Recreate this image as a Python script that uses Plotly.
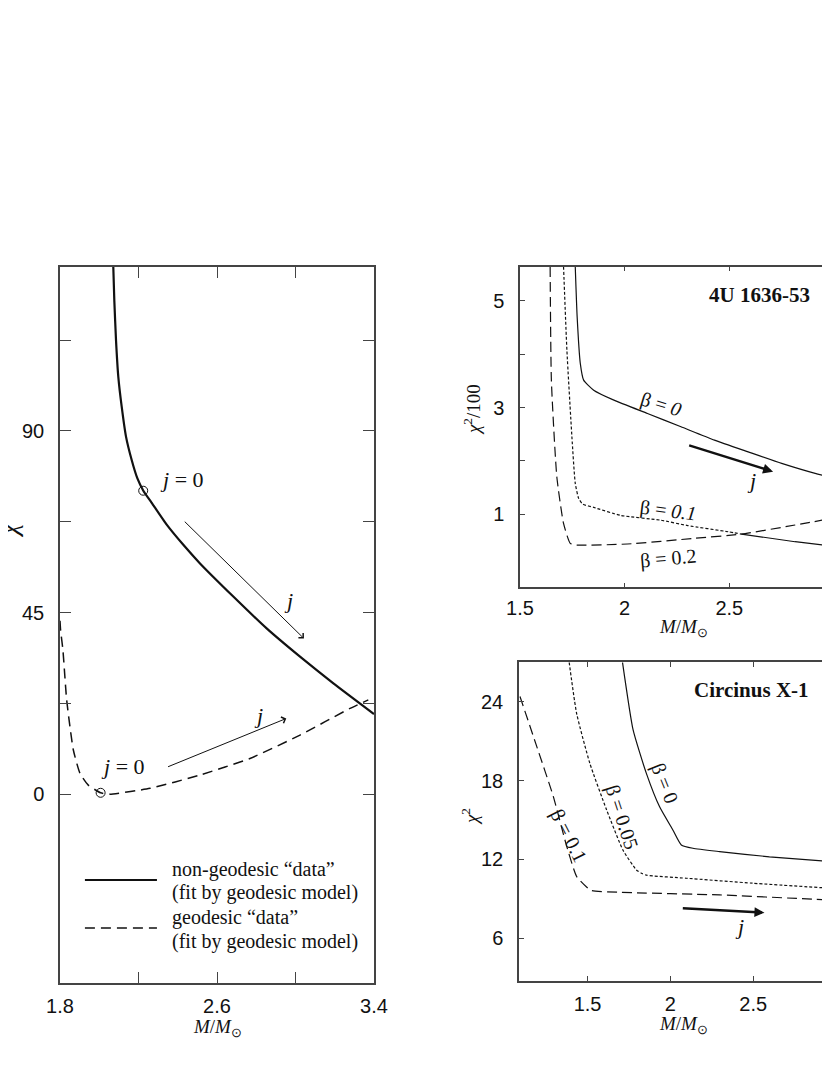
import plotly.graph_objects as go

# ---- left panel: chi^2 vs M ----
left_m_nongeo = [2.0716, 2.0767, 2.0854, 2.0971, 2.1144, 2.1363, 2.1653, 2.1939, 2.2245, 2.2673,
                 2.3437, 2.4283, 2.5134, 2.683, 2.853, 3.023, 3.193, 3.400]
left_chi_nongeo = [130.6, 122.4, 112.5, 103.4, 96.0, 88.6, 82.8, 78.3, 75.2, 72.2,
                   66.8, 61.8, 57.2, 49.0, 41.1, 34.1, 27.5, 19.9]

left_m_geo = [1.800, 1.803, 1.815, 1.834, 1.868, 1.902, 1.944, 2.007, 2.054, 2.259, 2.513, 2.768, 3.023, 3.278, 3.371]
left_chi_geo = [43.0, 40.7, 35.7, 23.4, 11.0, 5.2, 2.3, 0.4, 0.07, 1.5, 4.8, 8.9, 14.7, 21.3, 23.4]

# j = 0 points
j0_m = [2.224, 2.007]
j0_chi = [75.2, 0.4]

# ---- top right: 4U 1636-53, chi^2/100 ----
u_m_b0 = [1.764, 1.773, 1.788, 1.804, 1.852, 1.9486, 2.109, 2.269, 2.429, 2.590, 2.750, 2.910, 3.000]
u_chi_b0 = [5.64, 4.70, 3.83, 3.515, 3.327, 3.14, 2.89, 2.64, 2.39, 2.17, 1.955, 1.768, 1.685]

u_m_b01 = [1.708, 1.724, 1.748, 1.764, 1.780, 1.800, 1.852, 1.981, 2.173, 2.301, 2.494, 2.558]
u_chi_b01 = [5.64, 4.08, 2.45, 1.58, 1.30, 1.19, 1.13, 0.98, 0.89, 0.79, 0.674, 0.63]
u_m_b01_tail = [2.558, 2.814, 3.000]
u_chi_b01_tail = [0.63, 0.487, 0.40]

u_m_b02 = [1.644, 1.650, 1.676, 1.708, 1.740, 1.772, 2.013, 2.333, 2.558, 2.814, 3.000]
u_chi_b02 = [5.64, 3.50, 1.70, 0.83, 0.457, 0.425, 0.444, 0.55, 0.63, 0.80, 0.93]

# ---- bottom right: Circinus X-1, chi^2 ----
c_m_b0 = [1.711, 1.775, 1.855, 1.935, 2.015, 2.066, 2.136, 2.297, 2.598, 3.000]
c_chi_b0 = [27.0, 21.85, 18.55, 16.0, 14.24, 13.1, 12.85, 12.6, 12.2, 11.8]

c_m_b005 = [1.389, 1.434, 1.514, 1.614, 1.714, 1.795, 1.825, 1.855, 2.096, 2.497, 3.000]
c_chi_b005 = [27.0, 23.1, 19.3, 15.8, 12.7, 11.2, 10.95, 10.8, 10.57, 10.19, 9.78]

c_m_b01 = [1.092, 1.193, 1.293, 1.374, 1.434, 1.494, 1.524, 1.694, 2.297, 2.869, 3.000]
c_chi_b01 = [24.4, 20.6, 16.8, 13.0, 10.7, 9.9, 9.63, 9.5, 9.3, 8.97, 8.9]

W, H = 830, 1040
OFF = 8  # page body margin
SANS = "Liberation Sans"
SERIF = "Liberation Serif"
INK = "#111111"


def px(x):
    return (x - OFF) / W


def py(y):
    return 1 - (y - OFF) / H


fig = go.Figure()

def curve(x, y, ax, width=1.2, dash="solid"):
    fig.add_trace(go.Scatter(x=x, y=y, mode="lines",
                             line=dict(color=INK, width=width, dash=dash, shape="spline", smoothing=0.5),
                             xaxis=ax[0], yaxis=ax[1]))

# left panel
curve(left_m_nongeo, left_chi_nongeo, ("x", "y"), width=2.2)
curve(left_m_geo, left_chi_geo, ("x", "y"), width=1.5, dash="10px,6px")
fig.add_trace(go.Scatter(x=j0_m, y=j0_chi, mode="markers",
                         marker=dict(symbol="circle-open", size=9, color=INK, line=dict(width=1)),
                         xaxis="x", yaxis="y"))

# top right
curve(u_m_b0, u_chi_b0, ("x2", "y2"))
curve(u_m_b01, u_chi_b01, ("x2", "y2"), dash="3px,2px")
curve(u_m_b01_tail, u_chi_b01_tail, ("x2", "y2"))
curve(u_m_b02, u_chi_b02, ("x2", "y2"), dash="10px,5px")

# bottom right
curve(c_m_b0, c_chi_b0, ("x3", "y3"))
curve(c_m_b005, c_chi_b005, ("x3", "y3"), dash="3px,2px")
curve(c_m_b01, c_chi_b01, ("x3", "y3"), dash="10px,5px")

axis_common = dict(showline=True, linecolor="#444", linewidth=1.5, mirror="ticks",
                   ticks="inside", tickcolor="#444", showgrid=False, zeroline=False,
                   automargin=False, tickfont=dict(family=SANS, size=20, color=INK))

fig.update_layout(
    template="none",
    width=W, height=H, margin=dict(l=0, r=0, t=0, b=0, autoexpand=False),
    paper_bgcolor="white", plot_bgcolor="white", showlegend=False,
    xaxis=dict(domain=[px(60), px(374)], range=[1.8, 3.4], anchor="y",
               tickvals=[1.8, 2.2, 2.6, 3.0, 3.4], ticktext=["1.8", "", "2.6", "", "3.4"],
               ticklen=11, ticklabelstandoff=4, **axis_common),
    yaxis=dict(domain=[py(983), py(267)], range=[-46.7, 130.6], anchor="x",
               tickvals=[0, 22.5, 45, 67.5, 90, 112.5], ticktext=["0", "", "45", "", "90", ""],
               ticklen=11, ticklabelstandoff=10, **axis_common),
    xaxis2=dict(domain=[px(520), px(834)], range=[1.5, 3.0], anchor="y2",
                tickvals=[1.5, 2, 2.5, 3], ticktext=["1.5", "2", "2.5", "3"],
                ticklen=5, ticklabelstandoff=2, **axis_common),
    yaxis2=dict(domain=[py(587.3), py(266.7)], range=[-0.367, 5.64], anchor="x2",
                tickvals=[1, 2, 3, 4, 5], ticktext=["1", "", "3", "", "5"],
                ticklen=5, ticklabelstandoff=10, **axis_common),
    xaxis3=dict(domain=[px(519), px(836)], range=[1.086, 3.0], anchor="y3",
                tickvals=[1.5, 2, 2.5, 3], ticktext=["1.5", "2", "2.5", "3"],
                ticklen=5, ticklabelstandoff=4, **axis_common),
    yaxis3=dict(domain=[py(981), py(662.3)], range=[2.75, 27.0], anchor="x3",
                tickvals=[6, 12, 18, 24], ticktext=["6", "12", "18", "24"],
                ticklen=5, ticklabelstandoff=10, **axis_common),
)

# legend drawn by hand inside the left panel
fig.add_shape(type="line", xref="x", yref="y", x0=1.927, x1=2.294, y0=-21.2, y1=-21.2,
              line=dict(color=INK, width=2.2))
fig.add_shape(type="line", xref="x", yref="y", x0=1.927, x1=2.294, y0=-33.1, y1=-33.1,
              line=dict(color=INK, width=1.5, dash="10px,6px"))

serif_font = dict(family=SERIF, size=20, color=INK)
jfont = dict(family=SERIF, size=22, color=INK)
bfont = dict(family=SERIF, size=21, color=INK)
tfont = dict(family=SERIF, size=19, color=INK)
mm = "<i>M</i>/<i>M</i><sub>\u2299</sub>"
notes = [
    # left panel legend text
    dict(xref="x", yref="y", x=2.36, y=-18.7, xanchor="left", text="non-geodesic \u201cdata\u201d"),
    dict(xref="x", yref="y", x=2.36, y=-24.4, xanchor="left", text="(fit by geodesic model)"),
    dict(xref="x", yref="y", x=2.36, y=-30.6, xanchor="left", text="geodesic \u201cdata\u201d"),
    dict(xref="x", yref="y", x=2.36, y=-36.5, xanchor="left", text="(fit by geodesic model)"),
    dict(xref="x", yref="y", x=2.422, y=77.9, text="<i>j</i> = 0", font=jfont),
    dict(xref="x", yref="y", x=2.123, y=6.8, text="<i>j</i> = 0", font=jfont),
    dict(xref="x", yref="y", x=2.963, y=48.1, text="<i>j</i>", font=jfont),
    dict(xref="x", yref="y", x=2.81, y=19.6, text="<i>j</i>", font=jfont),
    # top right
    dict(xref="x2", yref="y2", x=2.646, y=5.107, text="<b>4U 1636-53</b>", font=bfont),
    dict(xref="x2", yref="y2", x=2.173, y=3.05, text="\u03b2 = <i>0</i>", textangle=17),
    dict(xref="x2", yref="y2", x=2.205, y=1.08, text="\u03b2 = <i>0.1</i>", textangle=7),
    dict(xref="x2", yref="y2", x=2.205, y=0.18, text="\u03b2 = 0.2", textangle=-5),
    dict(xref="x2", yref="y2", x=2.606, y=1.64, text="<i>j</i>", font=jfont),
    # bottom right
    dict(xref="x3", yref="y3", x=2.488, y=24.89, text="<b>Circinus X-1</b>", font=bfont),
    dict(xref="x3", yref="y3", x=1.966, y=17.8, text="\u03b2 = 0", textangle=68),
    dict(xref="x3", yref="y3", x=1.705, y=15.27, text="\u03b2 = 0.05", textangle=72),
    dict(xref="x3", yref="y3", x=1.383, y=13.8, text="\u03b2 = 0.1", textangle=63),
    dict(xref="x3", yref="y3", x=2.417, y=6.9, text="<i>j</i>", font=jfont),
    # axis titles
    dict(xref="paper", yref="paper", x=px(217), y=py(1028), text=mm, font=tfont),
    dict(xref="paper", yref="paper", x=px(683), y=py(628), text=mm, font=tfont),
    dict(xref="paper", yref="paper", x=px(683), y=py(1025), text=mm, font=tfont),
    dict(xref="paper", yref="paper", x=px(472), y=py(410), text="<i>\u03c7</i><sup>2</sup>/100",
         textangle=-90, font=tfont),
    dict(xref="paper", yref="paper", x=px(470), y=py(817), text="<i>\u03c7</i><sup>2</sup>",
         textangle=-90, font=tfont),
    dict(xref="paper", yref="paper", x=px(6), y=py(526), text="<i>\u03c7</i><sup>2</sup>",
         textangle=-90, font=dict(family=SERIF, size=27, color=INK)),
]
for n in notes:
    n.setdefault("font", serif_font)
    n.setdefault("showarrow", False)
    n.setdefault("xanchor", "center")
    n.setdefault("yanchor", "middle")
    fig.add_annotation(**n)

# arrows showing increasing j
arrows = [
    dict(xref="x", yref="y", axref="x", ayref="y", x=3.043, y=38.6, ax=2.428, ay=67.9,
         arrowhead=4, arrowwidth=1, arrowsize=1.3),
    dict(xref="x", yref="y", axref="x", ayref="y", x=2.953, y=18.8, ax=2.343, ay=6.7,
         arrowhead=4, arrowwidth=1, arrowsize=1.3),
    dict(xref="x2", yref="y2", axref="x2", ayref="y2", x=2.709, y=1.80, ax=2.301, ay=2.30,
         arrowhead=2, arrowwidth=2.5, arrowsize=0.8),
    dict(xref="x3", yref="y3", axref="x3", ayref="y3", x=2.568, y=7.95, ax=2.066, ay=8.29,
         arrowhead=2, arrowwidth=2.5, arrowsize=0.8),
]
for a in arrows:
    fig.add_annotation(text="", showarrow=True, arrowcolor=INK, **a)

fig.write_html("out.html")
